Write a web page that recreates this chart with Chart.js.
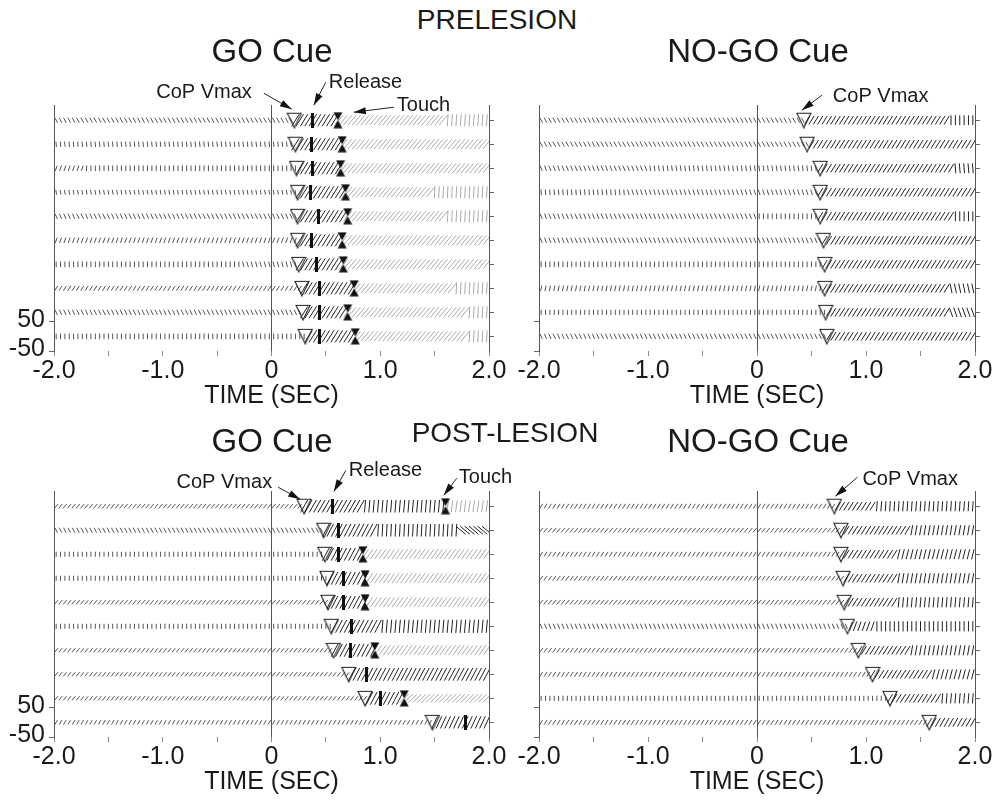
<!DOCTYPE html>
<html><head><meta charset="utf-8">
<script src="https://cdn.jsdelivr.net/npm/chart.js@4.4.1/dist/chart.umd.min.js"></script>
<style>
html,body{margin:0;padding:0;background:#fff;overflow:hidden;width:995px;height:800px;}
.wrap{position:relative;width:995px;height:800px;}
canvas{position:absolute;}
.t{position:absolute;font-family:'Liberation Sans',Arial,sans-serif;color:#1a1a1a;white-space:nowrap;transform:translate(-50%,-50%);line-height:1;z-index:2;}
</style></head><body><div class="wrap">
<canvas id="c1" width="520" height="355" style="left:0px;top:60px;width:520px;height:355px"></canvas>
<canvas id="c2" width="520" height="355" style="left:475px;top:60px;width:520px;height:355px"></canvas>
<canvas id="c3" width="520" height="355" style="left:0px;top:446px;width:520px;height:355px"></canvas>
<canvas id="c4" width="520" height="355" style="left:475px;top:446px;width:520px;height:355px"></canvas>
<div class="t" style="left:497px;top:20px;font-size:28px">PRELESION</div>
<div class="t" style="left:272px;top:50px;font-size:33px">GO Cue</div>
<div class="t" style="left:758px;top:50px;font-size:33px">NO-GO Cue</div>
<div class="t" style="left:505px;top:433px;font-size:28px">POST-LESION</div>
<div class="t" style="left:272px;top:440px;font-size:33px">GO Cue</div>
<div class="t" style="left:758px;top:440px;font-size:33px">NO-GO Cue</div>
</div>
<script>
// ---------------- DATA ----------------
const TIME_TICKS = [-2, -1.5, -1, -0.5, 0, 0.5, 1, 1.5, 2];
const TIME_LABELS = {'-2': '-2.0', '-1': '-1.0', '0': '0', '1': '1.0', '2': '2.0'};
const AMP_TICKS = [-50, 50];
const AMP_LABELS = ['-50', '50'];
const N_TRIALS = 10;
const TRIAL_SPACING = 82;   // amplitude units between stacked trials
const SAMPLE_DT = 0.04;     // s between CoP samples

// Event times (s) per trial, top trial first
const preGoCop      = [0.21, 0.22, 0.23, 0.24, 0.24, 0.24, 0.25, 0.28, 0.29, 0.31];
const preGoRelease  = [0.38, 0.37, 0.38, 0.36, 0.43, 0.37, 0.41, 0.44, 0.44, 0.44];
const preGoTouch    = [0.61, 0.65, 0.635, 0.68, 0.70, 0.65, 0.66, 0.76, 0.70, 0.77];
const preNoGoCop    = [0.43, 0.46, 0.58, 0.58, 0.58, 0.61, 0.62, 0.62, 0.63, 0.64];
const postGoCop     = [0.30, 0.48, 0.49, 0.51, 0.52, 0.55, 0.57, 0.71, 0.86, 1.48];
const postGoRelease = [0.56, 0.62, 0.62, 0.66, 0.66, 0.74, 0.73, 0.87, 1.00, 1.78];
const postGoTouch   = [1.60, null, 0.84, 0.86, 0.86, null, 0.95, null, 1.22, null];
const postNoGoCop   = [0.71, 0.77, 0.77, 0.79, 0.80, 0.83, 0.93, 1.06, 1.22, 1.58];

// CoP vector segments per trial: [start time (s), direction (deg from vertical, + = rightward), magnitude]
const preGoSticks = [
  [[-2, -28, 1.9], [0.21, 32, 4.7], [0.61, 40, 4.3], [1.6, 4, 4.0]],
  [[-2, -6, 1.8], [0.22, 32, 4.7], [0.65, 40, 4.3]],
  [[-2, 20, 1.9], [-1.7, 0, 1.9], [0.23, 32, 4.7], [0.635, 40, 4.3]],
  [[-2, -10, 1.6], [0.24, 32, 4.7], [0.68, 40, 4.3], [1.5, 3, 4.0]],
  [[-2, -25, 1.9], [0.24, 32, 4.7], [0.70, 40, 4.3], [1.6, 3, 4.0]],
  [[-2, 20, 1.9], [0.24, 32, 4.7], [0.65, 40, 4.3]],
  [[-2, 0, 1.9], [-0.3, -15, 1.9], [0.25, 32, 4.7], [0.66, 40, 4.3]],
  [[-2, 32, 1.9], [0.28, 32, 4.7], [0.76, 40, 4.3], [1.7, 3, 4.0]],
  [[-2, -25, 1.9], [0.29, 32, 4.7], [0.70, 40, 4.3], [1.8, 3, 4.0]],
  [[-2, 0, 1.9], [0.31, 32, 4.7], [0.77, 40, 4.3], [1.8, 3, 4.0]]
];
const preNoGoSticks = [
  [[-2, -28, 1.9], [0.43, 32, 3.3], [1.75, 0, 3.3]],
  [[-2, -28, 1.9], [0.46, 32, 3.3]],
  [[-2, -22, 1.9], [-1.0, -8, 1.9], [0.58, 32, 3.3], [1.8, -5, 3.3]],
  [[-2, -5, 1.9], [-1.2, -18, 1.9], [0.58, 32, 3.3]],
  [[-2, -22, 1.9], [0.0, 0, 1.9], [0.58, 32, 3.3], [1.8, 0, 3.3]],
  [[-2, -22, 1.9], [0.61, 32, 3.3]],
  [[-2, 0, 1.9], [0.62, 32, 3.3]],
  [[-2, 12, 1.9], [0.62, 32, 3.3], [1.75, -12, 3.3]],
  [[-2, 0, 1.7], [0.63, 32, 3.3], [1.75, -20, 3.3]],
  [[-2, -25, 1.9], [0.64, 32, 3.3]]
];
const postGoSticks = [
  [[-2, 40, 1.9], [0.30, 30, 4.8], [0.85, 5, 4.2], [1.6, 8, 4.0]],
  [[-2, -28, 1.9], [0.48, 28, 4.8], [0.95, 3, 4.2], [1.72, -50, 4.2]],
  [[-2, 0, 1.7], [0.49, 28, 4.8], [0.84, 35, 4.0]],
  [[-2, 0, 1.7], [0.51, 28, 4.8], [0.86, 35, 4.0]],
  [[-2, 40, 1.9], [0.52, 28, 4.8], [0.86, 35, 4.0]],
  [[-2, 0, 1.7], [0.55, 28, 4.8], [1.0, 5, 4.4]],
  [[-2, 38, 1.8], [0.57, 28, 4.8], [0.95, 35, 4.0]],
  [[-2, 38, 1.8], [0.71, 28, 4.8]],
  [[-2, 38, 1.8], [0.86, 28, 4.8], [1.22, 45, 4.0]],
  [[-2, 30, 1.7], [1.48, 25, 4.5]]
];
const postNoGoSticks = [
  [[-2, 32, 1.9], [0.71, 32, 3.3], [1.1, 4, 3.4]],
  [[-2, 40, 2.0], [0.77, 32, 3.3], [1.4, 10, 3.4]],
  [[-2, 32, 1.9], [0.77, 32, 3.3], [1.3, 14, 3.4]],
  [[-2, 36, 1.9], [0.79, 32, 3.3], [1.3, 10, 3.4]],
  [[-2, 40, 2.0], [0.80, 32, 3.3], [1.3, 5, 3.4]],
  [[-2, -22, 1.9], [0.83, 20, 3.3], [1.1, 0, 3.4]],
  [[-2, 36, 1.9], [0.93, 32, 3.3], [1.4, 10, 3.4]],
  [[-2, 32, 1.9], [1.06, 32, 3.3], [1.6, 15, 3.4]],
  [[-2, 0, 1.7], [1.22, 32, 3.3], [1.7, 5, 3.4]],
  [[-2, 32, 1.9], [1.58, 30, 3.3]]
];

// ---------------- STYLE / BUILD ----------------
const FONT = "'Liberation Sans', Arial, sans-serif";
const TEXT = '#1a1a1a';
const STICK_PX = 1.5;
const STICK_COLORS = ['#555', '#222', '#aaa'];
Chart.defaults.color = TEXT;
Chart.defaults.font.family = FONT;

const sampleTimes = [];
for (let i = 0; i * SAMPLE_DT < 4 - 1e-9; i++) sampleTimes.push(-2 + SAMPLE_DT * (i + 0.5));
const trialY = r => (N_TRIALS - 1 - r) * TRIAL_SPACING;
const ROW_VALUES = Array.from({length: N_TRIALS}, (_, r) => trialY(r));

function stickPoints(segs, cop, touch) {
  const pts = [];
  segs.forEach((row, r) => {
    sampleTimes.forEach(t => {
      let seg = row[0];
      for (const s of row) if (t >= s[0]) seg = s;
      const phase = t < cop[r] ? 0 : (touch && touch[r] != null && t >= touch[r] ? 2 : 1);
      pts.push({x: t, y: trialY(r), a: seg[1], m: seg[2], p: phase});
    });
  });
  return pts;
}
function markerPoints(times) {
  const out = [];
  times.forEach((t, r) => { if (t != null) out.push({x: t, y: trialY(r)}); });
  return out;
}
function mkCanvas(w, h, draw) {
  const c = document.createElement('canvas'); c.width = w; c.height = h;
  draw(c.getContext('2d')); return c;
}
const TRI = mkCanvas(16, 17, g => {
  g.strokeStyle = '#222'; g.lineWidth = 1.1; g.beginPath();
  g.moveTo(1, 1.5); g.lineTo(15, 1.5); g.lineTo(8, 16); g.closePath(); g.stroke();
});
const BAR = mkCanvas(3, 15, g => { g.fillStyle = '#111'; g.fillRect(0, 0, 3, 15); });
const HOUR = mkCanvas(10, 17, g => {
  g.fillStyle = '#111'; g.beginPath();
  g.moveTo(0.5, 0.5); g.lineTo(9.5, 0.5); g.lineTo(5, 8.5); g.closePath(); g.fill();
  g.beginPath(); g.moveTo(5, 8.5); g.lineTo(0.5, 16.5); g.lineTo(9.5, 16.5); g.closePath(); g.fill();
});

const calloutPlugin = {
  id: 'callouts',
  afterDatasetsDraw(chart, args, opts) {
    const items = opts.items || [];
    const ctx = chart.ctx, xs = chart.scales.x, ys = chart.scales.y;
    items.forEach(it => {
      const mx = xs.getPixelForValue(it.t), my = ys.getPixelForValue(it.v);
      const tx = mx + it.tip[0], ty = my + it.tip[1];
      const sx = tx + it.tail[0], sy = ty + it.tail[1];
      ctx.save();
      ctx.strokeStyle = '#222'; ctx.lineWidth = 1;
      ctx.beginPath(); ctx.moveTo(sx, sy); ctx.lineTo(tx, ty); ctx.stroke();
      const ang = Math.atan2(ty - sy, tx - sx), L = 12, W = 3.5;
      const c = Math.cos(ang), s = Math.sin(ang);
      ctx.beginPath(); ctx.moveTo(tx, ty);
      ctx.lineTo(tx - L * c + W * s, ty - L * s - W * c);
      ctx.lineTo(tx - L * c - W * s, ty - L * s + W * c);
      ctx.closePath(); ctx.fillStyle = '#111'; ctx.fill();
      ctx.font = '20px ' + FONT; ctx.fillStyle = TEXT;
      ctx.textAlign = it.align; ctx.textBaseline = 'middle';
      ctx.fillText(it.text, tx + it.label[0], ty + it.label[1]);
      ctx.restore();
    });
  }
};

function makeChart(id, cfg) {
  const datasets = [];
  datasets.push({label: 'CoP Vmax', data: markerPoints(cfg.cop), pointStyle: TRI, pointRadius: 8, order: 0});
  if (cfg.release) datasets.push({label: 'Release', data: markerPoints(cfg.release), pointStyle: BAR, pointRadius: 8, order: 0});
  if (cfg.touch) datasets.push({label: 'Touch', data: markerPoints(cfg.touch), pointStyle: HOUR, pointRadius: 8, order: 0});
  datasets.push({
    label: 'CoP vector', data: stickPoints(cfg.sticks, cfg.cop, cfg.touch), order: 1,
    pointStyle: 'line',
    pointRadius: c => (c.raw ? c.raw.m * STICK_PX : 3),
    pointRotation: c => (c.raw ? 90 + c.raw.a : 90),
    pointBorderWidth: 1,
    pointBorderColor: c => (c.raw ? STICK_COLORS[c.raw.p] : '#333'),
    pointBackgroundColor: 'rgba(0,0,0,0)'
  });
  return new Chart(document.getElementById(id), {
    type: 'scatter',
    data: {datasets},
    plugins: [calloutPlugin],
    options: {
      responsive: false, animation: false, devicePixelRatio: 1, events: [],
      layout: {padding: {top: 45, left: 0, right: 0, bottom: 0}},
      plugins: {legend: {display: false}, tooltip: {enabled: false}, callouts: {items: cfg.callouts}},
      scales: {
        x: {
          type: 'linear', min: -2, max: 2,
          afterBuildTicks: s => { s.ticks = TIME_TICKS.map(v => ({value: v})); },
          afterFit: s => { s.height = 64; },
          ticks: {autoSkip: false, maxRotation: 0, minRotation: 0, padding: 0, color: TEXT,
                  font: {family: FONT, size: 25}, callback: v => TIME_LABELS[String(v)] ?? ''},
          grid: {drawOnChartArea: true, lineWidth: 1, tickLength: 5, tickColor: '#888',
                 color: c => (c.tick && c.tick.value === 0) ? '#555' : 'rgba(0,0,0,0)'},
          border: {display: false},
          title: {display: true, text: 'TIME (SEC)', color: TEXT, font: {family: FONT, size: 25}, padding: {top: 0, bottom: 4}}
        },
        y: {
          type: 'linear', position: 'left', min: -50, max: 790,
          afterBuildTicks: s => { s.ticks = AMP_TICKS.map(v => ({value: v})); },
          afterFit: s => { s.width = cfg.leftW; },
          ticks: {padding: 4, color: TEXT, labelOffset: -2, font: {family: FONT, size: 25},
                  callback: (v, i) => cfg.ampLabels ? AMP_LABELS[i] : ''},
          grid: {drawOnChartArea: false, tickLength: 5, color: '#666'},
          border: {display: true, color: '#555'}
        },
        y2: {
          type: 'linear', position: 'right', min: -50, max: 790,
          afterBuildTicks: s => { s.ticks = ROW_VALUES.map(v => ({value: v})); },
          afterFit: s => { s.width = cfg.rightW; },
          ticks: {display: false},
          grid: {drawOnChartArea: false, tickLength: 5, color: '#666'},
          border: {display: true, color: '#555'}
        }
      }
    }
  });
}

const TOP = trialY(0);
makeChart('c1', {
  cop: preGoCop, release: preGoRelease, touch: preGoTouch, sticks: preGoSticks,
  leftW: 54, rightW: 31, ampLabels: true,
  callouts: [
    {text: 'CoP Vmax', t: preGoCop[0], v: TOP, tip: [-2.5, -11], tail: [-28, -16], label: [-40, -17], align: 'right'},
    {text: 'Release', t: preGoRelease[0], v: TOP, tip: [1, -15], tail: [12, -23], label: [15, -22.5], align: 'left'},
    {text: 'Touch', t: preGoTouch[0], v: TOP, tip: [16, -8], tail: [40, -5], label: [43, -6.7], align: 'left'}
  ]
});
makeChart('c2', {
  cop: preNoGoCop, sticks: preNoGoSticks, leftW: 64, rightW: 20, ampLabels: false,
  callouts: [
    {text: 'CoP Vmax', t: preNoGoCop[0], v: TOP, tip: [-2, -10], tail: [20, -15], label: [31, -14], align: 'left'}
  ]
});
makeChart('c3', {
  cop: postGoCop, release: postGoRelease, touch: postGoTouch, sticks: postGoSticks,
  leftW: 54, rightW: 31, ampLabels: true,
  callouts: [
    {text: 'CoP Vmax', t: postGoCop[0], v: TOP, tip: [-4, -7], tail: [-22, -12], label: [-28, -16.7], align: 'right'},
    {text: 'Release', t: postGoRelease[0], v: TOP, tip: [1.4, -14.7], tail: [12, -21], label: [15, -21.5], align: 'left'},
    {text: 'Touch', t: postGoTouch[0], v: TOP, tip: [-1.7, -11], tail: [13, -17], label: [15, -18], align: 'left'}
  ]
});
makeChart('c4', {
  cop: postNoGoCop, sticks: postNoGoSticks, leftW: 64, rightW: 20, ampLabels: false,
  callouts: [
    {text: 'CoP Vmax', t: postNoGoCop[0], v: TOP, tip: [1, -10], tail: [22, -19], label: [27, -17], align: 'left'}
  ]
});
</script>
</body></html>
